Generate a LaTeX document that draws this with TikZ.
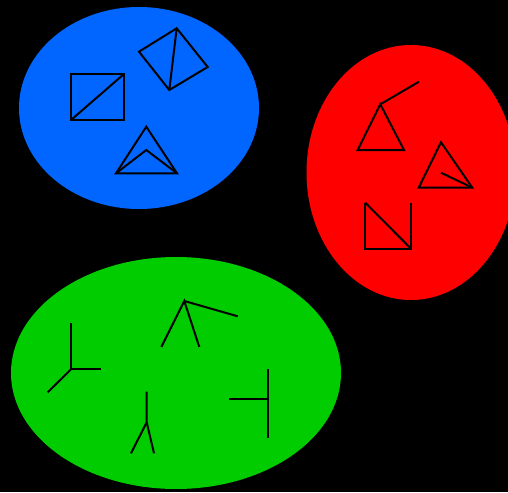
\documentclass[tikz,border=0pt]{standalone}
\begin{document}
\begin{tikzpicture}[x=0.5pt,y=-0.5pt,
  glyph/.style={draw=black,line width=1pt,line join=miter}]
\definecolor{cblue}{HTML}{0066FF}
\definecolor{cred}{HTML}{FF0000}
\definecolor{cgreen}{HTML}{00CC00}
\fill[black] (0,0) rectangle (508,492);
\useasboundingbox (0,0) rectangle (508,492);
\begin{scope}
\clip (0,0) rectangle (508,492);
\fill[cblue] (139,108) ellipse [x radius=120, y radius=101];
\fill[cred] (411,172.5) ellipse [x radius=104.5, y radius=127.5];
\fill[cgreen] (176,373) ellipse [x radius=165, y radius=116];
\end{scope}
% blue
\draw[glyph] (71,74) rectangle (124,120);
\draw[glyph] (71,120) -- (124,74);
\draw[glyph] (176.7,28.3) -- (207.7,67) -- (169.3,90) -- (139,51.7) -- cycle;
\draw[glyph] (176.7,28.3) -- (169.3,90);
\draw[glyph] (146.3,126.7) -- (177,173.3) -- (116,173.3) -- cycle;
\draw[glyph] (116,173.3) -- (146.3,150) -- (177,173.3);
% red
\draw[glyph] (380.3,104.3) -- (404,150) -- (357.7,150) -- cycle;
\draw[glyph] (380.3,104.3) -- (419,81.7);
\draw[glyph] (441,142.3) -- (472.3,187.7) -- (418.7,187.7) -- cycle;
\draw[glyph] (441,172.7) -- (472.3,187.7);
\draw[glyph] (365.3,202.7) -- (365.3,248.7) -- (411,248.7) -- (411,202.7);
\draw[glyph] (365.3,202.7) -- (411,248.7);
% green
\draw[glyph] (71,323.3) -- (71,369.3) -- (101.3,369.3);
\draw[glyph] (71,369.3) -- (47.7,392.3);
\draw[glyph] (161.3,347) -- (184.3,301) -- (199.3,347);
\draw[glyph] (184.3,301) -- (237.7,316.3);
\draw[glyph] (146.7,391.7) -- (146.7,422.3) -- (131,453.3);
\draw[glyph] (146.7,422.3) -- (154,453.3);
\draw[glyph] (267.7,369) -- (267.7,438);
\draw[glyph] (229,399.3) -- (267.7,399.3);
\end{tikzpicture}
\end{document}
